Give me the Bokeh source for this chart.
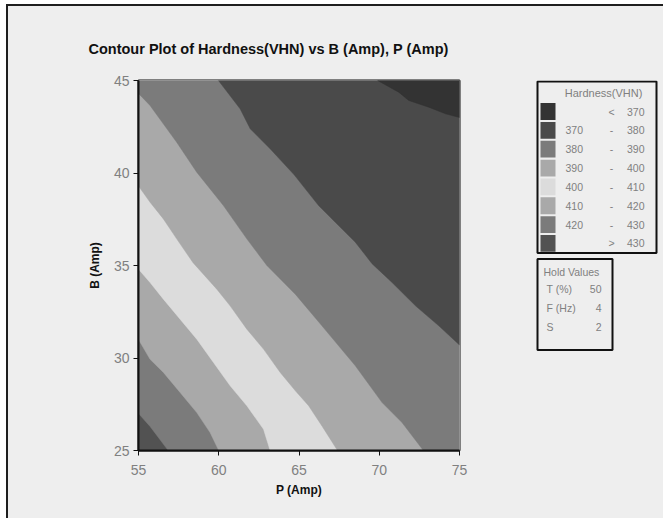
from bokeh.plotting import figure
from bokeh.layouts import row
from bokeh.models import Range1d, FixedTicker
from bokeh.core.properties import value
from bokeh.embed import file_html
from bokeh.resources import INLINE

# ---------------- data ----------------
P_MIN, P_MAX = 55, 75
B_MIN, B_MAX = 25, 45
X_TICKS = [55, 60, 65, 70, 75]
Y_TICKS = [25, 30, 35, 40, 45]

# contour boundaries (P, B), each from its upper-left end to its lower-right end
b430_p = [55.0, 55.72, 56.85]
b430_b = [27.0, 26.3, 25.0]

b420_p = [55.0, 55.72, 56.55, 57.59, 58.63, 59.46, 60.0]
b420_b = [31.0, 29.93, 29.22, 28.14, 27.05, 25.97, 25.0]

b410_p = [55.0, 55.72, 56.55, 57.59, 58.63, 59.67, 60.71, 61.75, 62.79, 63.2]
b410_b = [34.8, 34.08, 33.18, 32.1, 31.02, 29.76, 28.5, 27.42, 26.15, 25.0]

b400_p = [55.0, 55.72, 56.55, 57.38, 58.4, 59.88, 60.71, 61.75, 62.79, 63.83, 64.8, 65.6, 66.43, 67.4]
b400_b = [39.3, 38.42, 37.52, 36.44, 35.15, 33.72, 32.82, 31.56, 30.48, 29.22, 28.2, 27.42, 26.33, 25.0]

b390_p = [55.0, 55.72, 57.38, 58.63, 60.29, 61.75, 63.0, 64.77, 66.43, 68.51, 70.18, 71.42, 72.75]
b390_b = [44.3, 43.65, 41.66, 40.04, 38.24, 36.44, 35.0, 33.45, 31.74, 29.58, 27.59, 26.51, 25.0]

b380_p = [59.98, 61.33, 61.96, 63.2, 64.7, 66.22, 67.26, 68.51, 69.55, 70.8, 72.26, 73.71, 75.0]
b380_b = [45.0, 43.47, 42.39, 41.31, 39.9, 38.24, 37.34, 36.26, 35.1, 34.08, 32.82, 31.74, 30.7]

b370_p = [69.9, 71.21, 71.84, 73.08, 74.13, 75.0]
b370_b = [45.0, 44.37, 43.92, 43.56, 43.2, 43.0]

# legend (top to bottom)
LEGEND_TITLE = "Hardness(VHN)"
LEGEND_LOW = ["", "370", "380", "390", "400", "410", "420", ""]
LEGEND_SYM = ["<", "-", "-", "-", "-", "-", "-", ">"]
LEGEND_HIGH = ["370", "380", "390", "400", "410", "420", "430", "430"]
LEGEND_COLORS = ["#333333", "#4a4a4a", "#7b7b7b", "#a9a9a9", "#dcdcdc", "#a9a9a9", "#7b7b7b", "#525252"]

HOLD_TITLE = "Hold Values"
HOLD_NAMES = ["T (%)", "F (Hz)", "S"]
HOLD_VALUES = ["50", "4", "2"]

TITLE = "Contour Plot of Hardness(VHN) vs B (Amp), P (Amp)"
X_LABEL = "P (Amp)"
Y_LABEL = "B (Amp)"

BG = "#eeeeee"
GRAY_TXT = "#808080"

# ---------------- main contour figure ----------------
pA = figure(frame_width=321, frame_height=370,
            min_border_left=130, min_border_right=71,
            min_border_top=74, min_border_bottom=68,
            x_range=Range1d(P_MIN, P_MAX), y_range=Range1d(B_MIN, B_MAX),
            output_backend="svg", toolbar_location=None,
            background_fill_color=BG, border_fill_color=BG)

# base (>430) fills the whole frame; each boundary's upper-right side is laid on top
boundaries = [(b430_p, b430_b), (b420_p, b420_b), (b410_p, b410_b), (b400_p, b400_b),
              (b390_p, b390_b), (b380_p, b380_b), (b370_p, b370_b)]
band_colors = LEGEND_COLORS[::-1]  # >430, 420-430, ... , <370

xs = [[P_MIN, P_MAX, P_MAX, P_MIN]]
ys = [[B_MIN, B_MIN, B_MAX, B_MAX]]
for bp, bb in boundaries:
    px, py = list(bp), list(bb)
    if py[-1] == B_MIN:
        px.append(P_MAX); py.append(B_MIN)
    px.append(P_MAX); py.append(B_MAX)
    if px[0] == P_MIN:
        px.append(P_MIN); py.append(B_MAX)
    xs.append(px); ys.append(py)
pA.patches(xs, ys, fill_color=band_colors[:len(xs)], line_color=band_colors[:len(xs)], line_width=0.5)

pA.title.text = TITLE
pA.title.align = "left"
pA.title.offset = -50
pA.title.standoff = 47
pA.title.text_font = "Liberation Sans"
pA.title.text_font_size = "14.5px"
pA.title.text_font_style = "bold"
pA.title.text_color = "#111111"

pA.xgrid.visible = False
pA.ygrid.visible = False
pA.outline_line_color = "#111111"
pA.outline_line_width = 2

for ax, lab in ((pA.xaxis[0], X_LABEL), (pA.yaxis[0], Y_LABEL)):
    ax.axis_label = lab
    ax.axis_label_text_font = "Liberation Sans"
    ax.axis_label_text_font_size = "12px"
    ax.axis_label_text_font_style = "bold"
    ax.axis_label_text_color = "#111111"
    ax.major_label_text_font = "Liberation Sans"
    ax.major_label_text_font_size = "14px"
    ax.major_label_text_color = GRAY_TXT
    ax.axis_line_color = "#111111"
    ax.axis_line_width = 2
    ax.major_tick_line_color = "#111111"
    ax.major_tick_line_width = 1
    ax.major_tick_in = 0
    ax.major_tick_out = 5
    ax.minor_tick_line_color = None
pA.xaxis[0].ticker = FixedTicker(ticks=X_TICKS)
pA.yaxis[0].ticker = FixedTicker(ticks=Y_TICKS)
pA.xaxis[0].major_label_standoff = 9
pA.xaxis[0].axis_label_standoff = 5
pA.yaxis[0].major_label_standoff = 4
pA.yaxis[0].axis_label_standoff = 9

# ---------------- legend figure (page pixel coordinates; frame aligned with pA's) ----------------
pB = figure(frame_width=133, frame_height=370, min_border_left=0, min_border_right=0,
            min_border_top=74, min_border_bottom=68,
            x_range=Range1d(530, 663), y_range=Range1d(450, 80),
            output_backend="svg", toolbar_location=None,
            background_fill_color=BG, border_fill_color=BG)
pB.axis.visible = False
pB.grid.visible = False
pB.outline_line_color = None

F = value("Liberation Sans")
n = len(LEGEND_COLORS)
row_c = [111.0 + 18.85 * i for i in range(n)]
pB.quad(left=537, right=656, top=81, bottom=252.5, fill_color=None,
        line_color="#111111", line_width=2)
pB.quad(left=[540] * n, right=[555] * n,
        top=[c - 8.4 for c in row_c], bottom=[c + 8.4 for c in row_c],
        fill_color=LEGEND_COLORS, line_color=None)
pB.text(x=[603], y=[92], text=[LEGEND_TITLE], text_font=F, text_font_size="11px",
        text_color=GRAY_TXT, text_align="center", text_baseline="middle")
pB.text(x=[565] * n, y=row_c, text=LEGEND_LOW, text_font=F, text_font_size="10.5px",
        text_color=GRAY_TXT, text_align="left", text_baseline="middle")
pB.text(x=[611] * n, y=row_c, text=LEGEND_SYM, text_font=F, text_font_size="10.5px",
        text_color=GRAY_TXT, text_align="center", text_baseline="middle")
pB.text(x=[626.5] * n, y=row_c, text=LEGEND_HIGH, text_font=F, text_font_size="10.5px",
        text_color=GRAY_TXT, text_align="left", text_baseline="middle")

pB.quad(left=537, right=612, top=258.5, bottom=349.5, fill_color=None,
        line_color="#111111", line_width=2)
pB.text(x=[543], y=[271.5], text=[HOLD_TITLE], text_font=F, text_font_size="10.5px",
        text_color=GRAY_TXT, text_align="left", text_baseline="middle")
hold_y = [288.5 + 19.2 * i for i in range(len(HOLD_NAMES))]
pB.text(x=[546] * len(HOLD_NAMES), y=hold_y, text=HOLD_NAMES, text_font=F,
        text_font_size="10.5px", text_color=GRAY_TXT, text_align="left", text_baseline="middle")
pB.text(x=[601] * len(HOLD_NAMES), y=hold_y, text=HOLD_VALUES, text_font=F,
        text_font_size="10.5px", text_color=GRAY_TXT, text_align="right", text_baseline="middle")

lay = row(pA, pB)
lay.styles = {"margin-left": "6px", "margin-top": "4px",
              "border-left": "2px solid #1e1e1e", "border-top": "2px solid #1e1e1e",
              "background-color": BG}

html = file_html(lay, INLINE)
html = html.replace("<body>", '<body style="background-color:#eeeeee;margin:0">', 1)
open("out.html", "w").write(html)
